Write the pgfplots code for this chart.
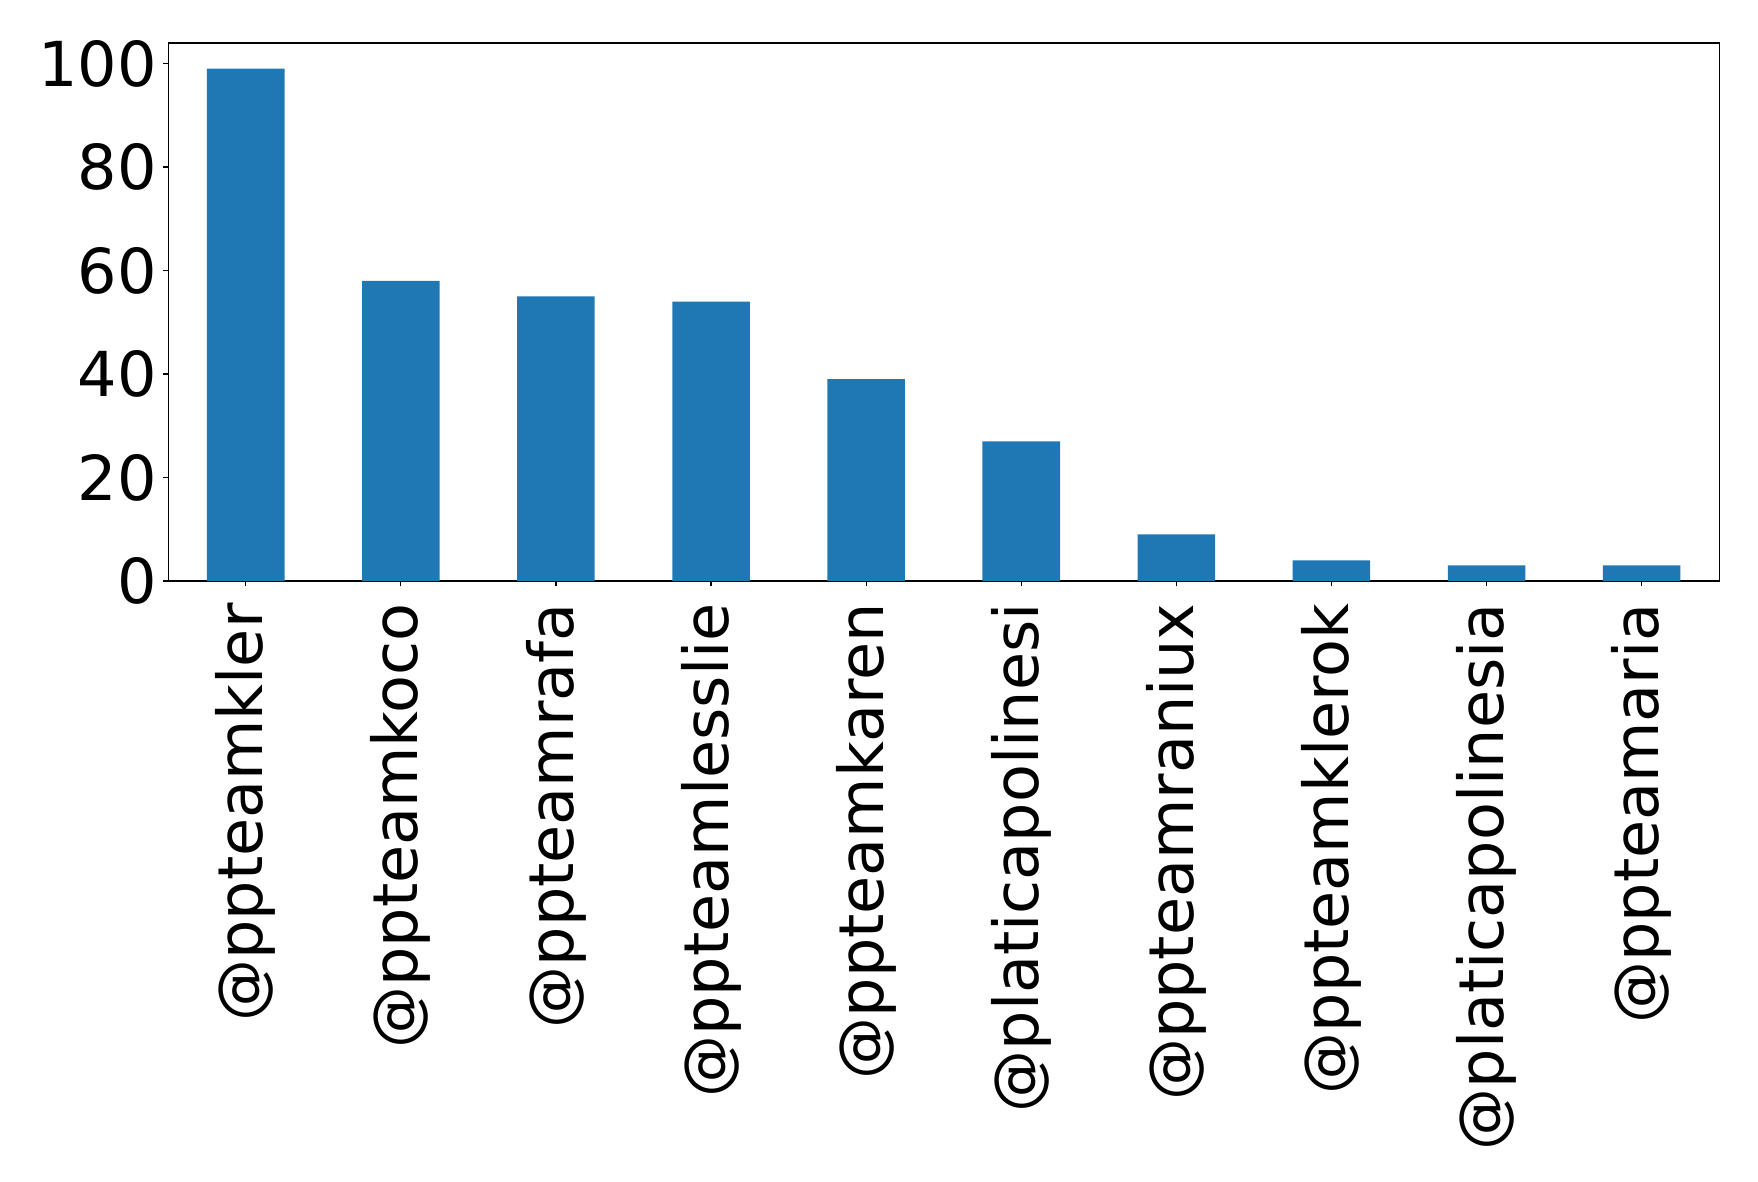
\documentclass[border=0pt]{standalone}
\usepackage{pgfplots}
\pgfplotsset{compat=1.18}
\usepackage{fontspec}
\setmainfont{DejaVu Sans}
\definecolor{mplblue}{HTML}{1F77B4}
\begin{document}
\fontsize{31}{37}\selectfont
\begin{tikzpicture}
\path[use as bounding box] (-84.1pt,-300.5pt) rectangle (794.9pt,290.5pt);
\begin{axis}[
  at={(0,0)}, anchor=south west,
  scale only axis,
  width=775.5pt, height=269pt,
  xmin=-0.5, xmax=9.5,
  ymin=0, ymax=103.95,
  ytick={0,20,40,60,80,100},
  xtick={0,1,2,3,4,5,6,7,8,9},
  xticklabels={@ppteamkler,@ppteamkoco,@ppteamrafa,@ppteamlesslie,@ppteamkaren,@platicapolinesi,@ppteamraniux,@ppteamklerok,@platicapolinesia,@ppteamaria},
  /pgf/number format/assume math mode=true,
  tick label style={font=\fontsize{31}{37}\selectfont},
  xticklabel style={rotate=90, anchor=east, inner sep=0pt},
  yticklabel style={anchor=east, inner sep=0pt},
  xticklabel shift=8.5pt,
  yticklabel shift=3pt,
  tick align=outside,
  major tick length=2.5pt,
  tick style={black, line width=0.6pt},
  axis line style={line width=0.6pt},
  xtick pos=bottom, ytick pos=left,
]
\addplot[ybar, bar width=0.5, fill=mplblue, draw=none, bar shift=0pt] coordinates {
(0,99) (1,58) (2,55) (3,54) (4,39) (5,27) (6,9) (7,4) (8,3) (9,3)
};
\end{axis}
\end{tikzpicture}
\end{document}
